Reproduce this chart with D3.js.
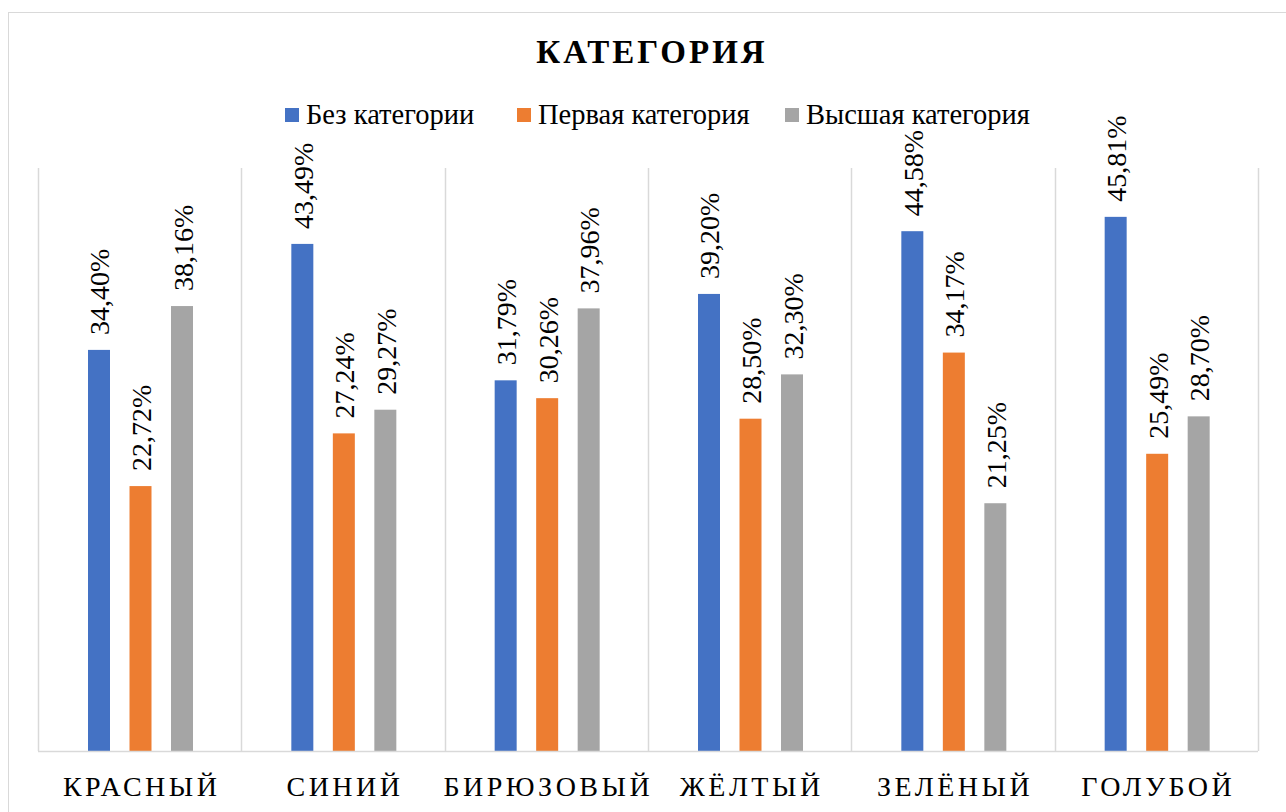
<!DOCTYPE html>
<html>
<head>
<meta charset="utf-8">
<script src="https://cdnjs.cloudflare.com/ajax/libs/d3/7.8.5/d3.min.js"></script>
<style>
  body { margin: 0; background: #fff; }
  svg text { font-family: "Liberation Serif", "Times New Roman", serif; fill: #000; }
</style>
</head>
<body>
<script>
'use strict';

// chart data
const categories = ["КРАСНЫЙ", "СИНИЙ", "БИРЮЗОВЫЙ", "ЖЁЛТЫЙ", "ЗЕЛЁНЫЙ", "ГОЛУБОЙ"];
const seriesNames = ["Без категории", "Первая категория", "Высшая категория"];
const bezKat = [34.40, 43.49, 31.79, 39.20, 44.58, 45.81];
const pervaya = [22.72, 27.24, 30.26, 28.50, 34.17, 25.49];
const vysshaya = [38.16, 29.27, 37.96, 32.30, 21.25, 28.70];
const colors = ["#4472C4", "#ED7D31", "#A5A5A5"];

(function() {
  const width = 1286, height = 812;
  const svg = d3.select('body').append('svg')
    .attr('width', width)
    .attr('height', height)
    .attr('font-family', '"Liberation Serif", serif');

  // outer chart border
  svg.append('rect')
    .attr('x', 8.5).attr('y', 12.5)
    .attr('width', 1290).attr('height', 820)
    .attr('fill', 'none')
    .attr('stroke', '#d9d9d9');

  const plot = { left: 38, right: 1258, top: 168, bottom: 751 };

  let series = [bezKat, pervaya, vysshaya];
  let rows = categories.map((c, i) => ({ cat: c, vals: series.map(s => s[i]) }));

  let xScale = d3.scaleBand()
    .domain(categories)
    .range([plot.left, plot.right]);

  // bars inside one category
  let inner = d3.scaleBand()
    .domain(d3.range(3))
    .range([50, 155])
    .paddingInner(0.47);

  let yScale = d3.scaleLinear()
    .domain([0, 50])
    .range([plot.bottom, plot.top]);

  // category separator lines
  let seps = categories.map(c => xScale(c)).concat([plot.right]);
  svg.selectAll('.sep')
    .data(seps)
    .enter()
    .append('line')
    .attr('x1', d => Math.round(d) + 0.5)
    .attr('x2', d => Math.round(d) + 0.5)
    .attr('y1', plot.top)
    .attr('y2', plot.bottom)
    .attr('stroke', '#d9d9d9')
    .attr('stroke-width', 1.5);

  // bars
  let groups = svg.selectAll('.grp')
    .data(rows)
    .enter()
    .append('g')
    .attr('transform', d => 'translate(' + xScale(d.cat) + ',0)');

  groups.selectAll('rect')
    .data(d => d.vals)
    .enter()
    .append('rect')
    .attr('x', (d, i) => inner(i))
    .attr('y', d => yScale(d))
    .attr('width', inner.bandwidth())
    .attr('height', d => plot.bottom - yScale(d))
    .attr('fill', (d, i) => colors[i]);

  // value labels, rotated
  groups.selectAll('.lbl')
    .data(d => d.vals)
    .enter()
    .append('text')
    .attr('transform', (d, i) => 'translate(' + (inner(i) + inner.bandwidth() / 2 + 10.5) + ',' + (yScale(d) - 15) + ') rotate(-90)')
    .style('font-size', '28px')
    .text(d => d.toFixed(2).replace('.', ',') + '%');

  // baseline
  svg.append('line')
    .attr('x1', plot.left).attr('x2', plot.right)
    .attr('y1', plot.bottom + 0.5).attr('y2', plot.bottom + 0.5)
    .attr('stroke', '#d9d9d9')
    .attr('stroke-width', 1.5);

  // category labels
  svg.selectAll('.cat')
    .data(categories)
    .enter()
    .append('text')
    .attr('x', d => xScale(d) + xScale.bandwidth() / 2 + 2)
    .attr('y', 796)
    .attr('text-anchor', 'middle')
    .style('font-size', '28px')
    .style('letter-spacing', '3.5px')
    .text(d => d);

  // title
  svg.append('text')
    .attr('x', 652)
    .attr('y', 63)
    .attr('text-anchor', 'middle')
    .style('font-size', '33px')
    .style('font-weight', 'bold')
    .style('letter-spacing', '3px')
    .text('КАТЕГОРИЯ');

  // legend
  const legendX = [285, 517, 785];
  seriesNames.forEach((name, i) => {
    svg.append('rect')
      .attr('x', legendX[i]).attr('y', 108)
      .attr('width', 14).attr('height', 14)
      .attr('fill', colors[i]);
    svg.append('text')
      .attr('x', legendX[i] + 21)
      .attr('y', 124)
      .style('font-size', '28.5px')
      .text(name);
  });
})();
</script>
</body>
</html>
